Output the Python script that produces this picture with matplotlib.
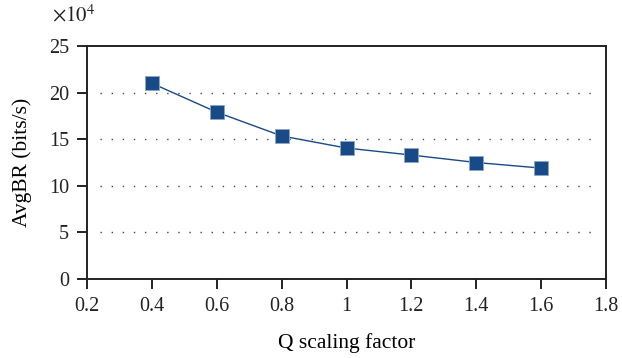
import matplotlib
matplotlib.use("Agg")
import matplotlib.pyplot as plt

# data (AvgBR in units of 1e4 bits/s)
q_scale = [0.4, 0.6, 0.8, 1.0, 1.2, 1.4, 1.6]
avg_br = [21.0, 17.9, 15.35, 14.05, 13.3, 12.5, 11.9]
x_ticks = [0.2, 0.4, 0.6, 0.8, 1.0, 1.2, 1.4, 1.6, 1.8]
x_labels = ["0.2", "0.4", "0.6", "0.8", "1", "1.2", "1.4", "1.6", "1.8"]
y_ticks = [0, 5, 10, 15, 20, 25]
grid_vals = [5, 10, 15, 20]

plt.rcParams['font.family'] = ['Liberation Serif', 'DejaVu Serif']
plt.rcParams['mathtext.fontset'] = 'stix'

fig = plt.figure(figsize=(6.22, 3.58), dpi=100)
ax = fig.add_axes([87/622, 1 - 279/358, (606-87)/622, (279-46)/358])

col = '#174a87'
ax.hlines(grid_vals, 0.24, 1.77, colors='#444444', linestyles=(0, (1, 7)), linewidth=1.0)
ax.plot(q_scale, avg_br, color=col, lw=1.0, marker='s', markersize=9.5,
        markerfacecolor=col, markeredgecolor='#8aa6c8', markeredgewidth=0.6)

ax.set_xlim(0.2, 1.8)
ax.set_ylim(0, 25)
ax.set_xticks(x_ticks)
ax.set_xticklabels(x_labels)
ax.set_yticks(y_ticks)
ax.tick_params(direction='out', length=7, width=1.4, labelsize=14.5, colors='#222222')
ax.tick_params(axis='x', pad=6)
ax.tick_params(axis='y', pad=6)
for s in ax.spines.values():
    s.set_linewidth(1.4)
    s.set_color('#222222')

ax.set_xlabel("Q scaling factor", fontsize=15.5, labelpad=12)
ax.set_ylabel("AvgBR (bits/s)", fontsize=15.5, labelpad=12)
fig.text(52/622, 1 - 16/358, r"$\times10^4$", fontsize=15, va='center', ha='left', color='#222222')

fig.savefig("out.png", dpi=100)
